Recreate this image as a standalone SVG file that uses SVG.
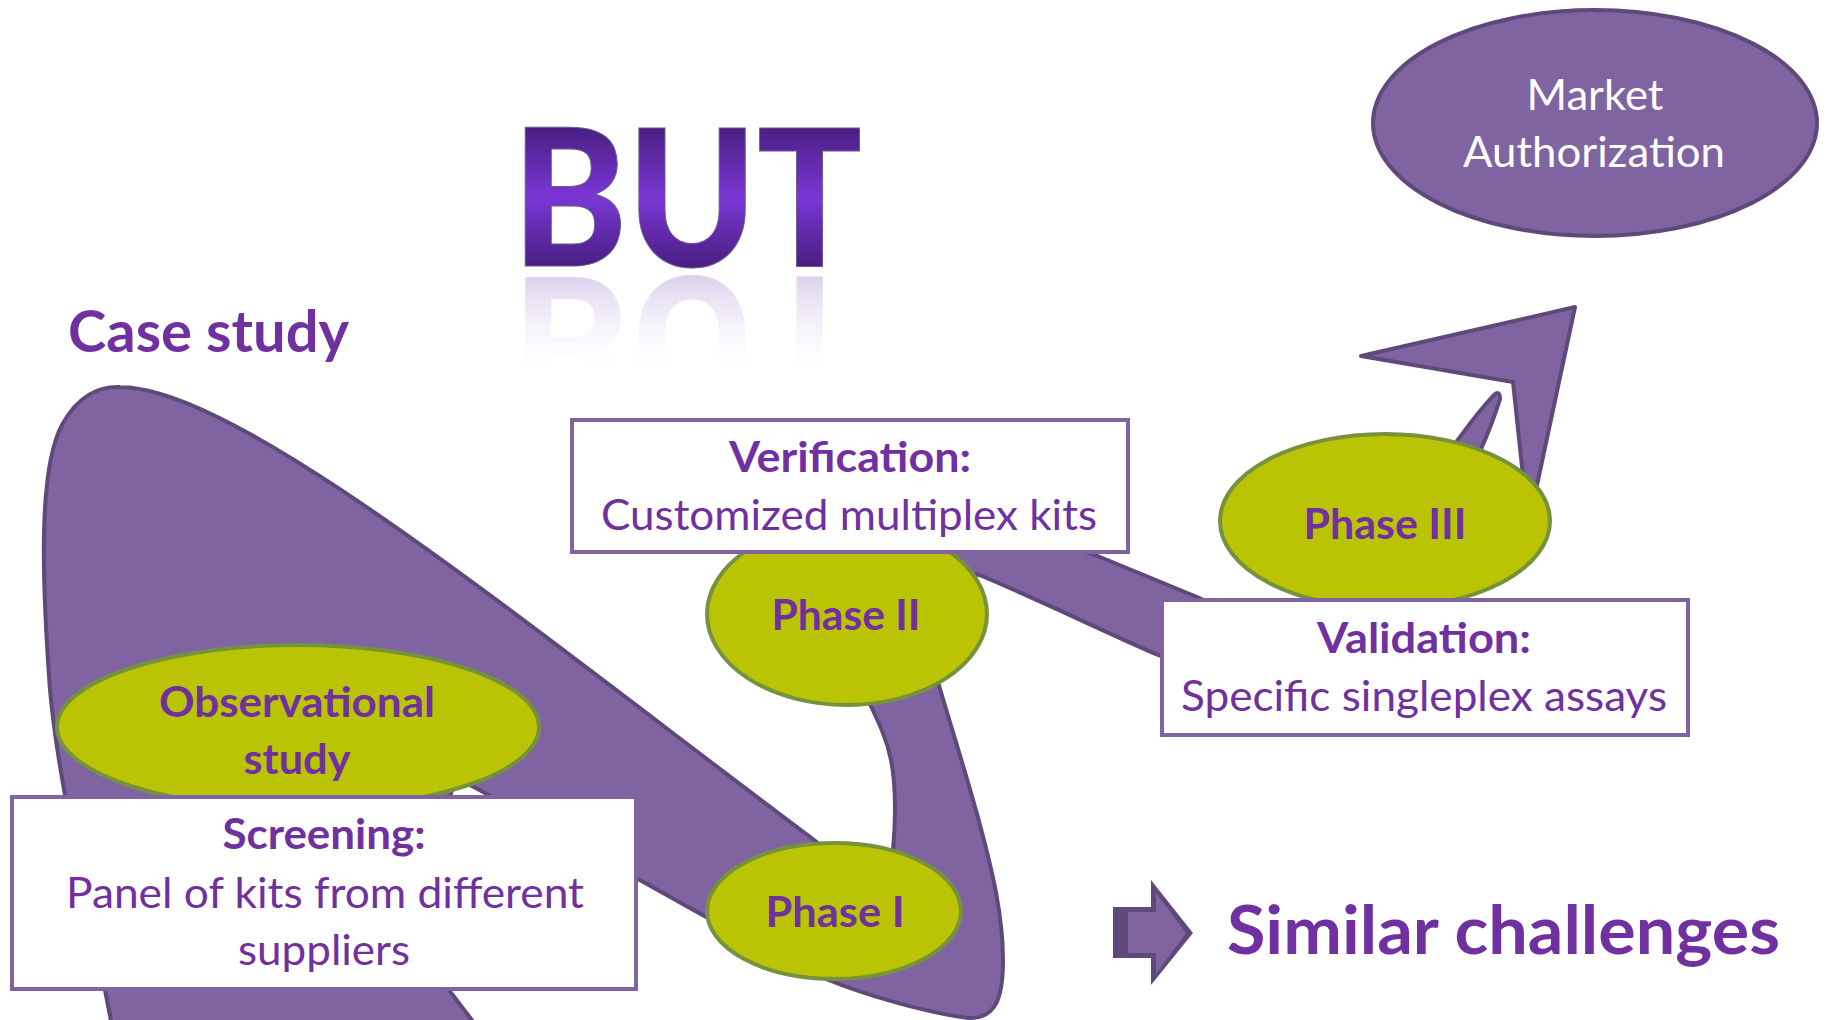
<svg xmlns="http://www.w3.org/2000/svg" width="1834" height="1020" viewBox="0 0 1834 1020">
  <defs>
    <linearGradient id="butGrad" gradientUnits="userSpaceOnUse" x1="0" y1="128" x2="0" y2="266">
      <stop offset="0" stop-color="#4a1f82"/>
      <stop offset="0.5" stop-color="#7a36d6"/>
      <stop offset="1" stop-color="#4a1f82"/>
    </linearGradient>
    <linearGradient id="reflGrad" gradientUnits="userSpaceOnUse" x1="0" y1="266" x2="0" y2="160">
      <stop offset="0" stop-color="#d6cae8" stop-opacity="0.85"/>
      <stop offset="1" stop-color="#ffffff" stop-opacity="0"/>
    </linearGradient>
    <style>
      .ribbon { fill: #8064a2; stroke: #5f497a; stroke-width: 4; stroke-linejoin: round; }
      .phase { fill: #bac304; stroke: #76923c; stroke-width: 4; }
      .box { fill: #ffffff; stroke: #8064a2; stroke-width: 4; }
      .t { font-family: Lato, "Liberation Sans", sans-serif; fill: #7030a0; text-anchor: middle; font-size: 42px; }
      .b { font-weight: bold; }
      .w { fill: #ffffff; }
    </style>
  </defs>
  <rect width="1834" height="1020" fill="#ffffff"/>

  <!-- title texts -->
  <g id="title-but">
    <text x="687" y="266" font-family="Lato, 'Liberation Sans', sans-serif" font-weight="900" font-size="190" text-anchor="middle" textLength="350" lengthAdjust="spacingAndGlyphs" fill="url(#butGrad)" stroke="#6b5a8c" stroke-width="1">BUT</text>
    <text x="687" y="266" transform="translate(0,543) scale(1,-1)" font-family="Lato, 'Liberation Sans', sans-serif" font-weight="900" font-size="190" text-anchor="middle" textLength="350" lengthAdjust="spacingAndGlyphs" fill="url(#reflGrad)">BUT</text>
  </g>
  <g id="case-study">
    <text x="68" y="352" class="t b" style="text-anchor:start;font-size:57px" textLength="281" lengthAdjust="spacingAndGlyphs">Case study</text>
  </g>

  <!-- connector ribbon -->
  <g id="connectors">
    <path class="ribbon" d="M 113 1032 C 95 930, 60 800, 50 690 C 42 580, 38 470, 62 425 C 78 395, 100 386, 120 387 C 240 388, 520 620, 822 846 L 850 880 L 890 860 L 893 850 C 896 815, 896 785, 891 760 C 887 740, 880 725, 868 700 L 860 650 L 900 560 L 960 510 L 1000 522 L 1100 557 L 1197 597 L 1260 625 L 1330 650 L 1400 570 L 1450 455 L 1457 441 Q 1478 412, 1493 396 Q 1500 389, 1500 399 Q 1492 425, 1481 449 L 1500 475 L 1523 476 L 1513 382 L 1361 356 L 1575 307 L 1537 485 L 1500 540 L 1400 600 L 1300 680 L 1200 671 L 1158 655 C 1100 630, 1040 600, 977 574 L 950 620 L 938 682 C 952 730, 968 780, 980 825 C 992 870, 1003 915, 1003 960 C 1003 1000, 995 1019, 968 1018 C 930 1013, 870 997, 826 979 L 780 950 L 706 917 L 638 879 L 485 793 L 455 777 L 425 900 L 449 990 L 481 1032 Z"/>
  </g>

  <!-- market authorization -->
  <g id="market-authorization">
    <ellipse cx="1595" cy="123" rx="222" ry="113" fill="#8064a2" stroke="#5f497a" stroke-width="4"/>
    <text x="1595" y="110" class="t w" textLength="137" lengthAdjust="spacingAndGlyphs">Market</text>
    <text x="1594" y="167" class="t w" textLength="262" lengthAdjust="spacingAndGlyphs">Authorization</text>
  </g>

  <!-- observational study -->
  <g id="observational-study">
    <ellipse class="phase" cx="298" cy="727" rx="241" ry="82"/>
    <text x="297" y="717" class="t b" textLength="276" lengthAdjust="spacingAndGlyphs">Observational</text>
    <text x="297" y="774" class="t b" textLength="107" lengthAdjust="spacingAndGlyphs">study</text>
  </g>

  <!-- screening -->
  <g id="screening">
    <rect class="box" x="12" y="797" width="624" height="192"/>
    <text x="324" y="849" class="t b" textLength="203" lengthAdjust="spacingAndGlyphs">Screening:</text>
    <text x="325" y="908" class="t" textLength="518" lengthAdjust="spacingAndGlyphs">Panel of kits from different</text>
    <text x="324" y="965" class="t" textLength="172" lengthAdjust="spacingAndGlyphs">suppliers</text>
  </g>

  <!-- phase I -->
  <g id="phase-1">
    <ellipse class="phase" cx="834" cy="911" rx="127" ry="68"/>
    <text x="835" y="927" class="t b" textLength="139" lengthAdjust="spacingAndGlyphs">Phase I</text>
  </g>

  <!-- phase II -->
  <g id="phase-2">
    <ellipse class="phase" cx="847" cy="614" rx="140" ry="91"/>
    <text x="846" y="630" class="t b" textLength="149" lengthAdjust="spacingAndGlyphs">Phase II</text>
  </g>

  <!-- verification -->
  <g id="verification">
    <rect class="box" x="572" y="420" width="556" height="132"/>
    <text x="850" y="472" class="t b" textLength="242" lengthAdjust="spacingAndGlyphs">Verification:</text>
    <text x="849" y="530" class="t" textLength="496" lengthAdjust="spacingAndGlyphs">Customized multiplex kits</text>
  </g>

  <!-- phase III -->
  <g id="phase-3">
    <ellipse class="phase" cx="1385" cy="521" rx="165" ry="87"/>
    <text x="1385" y="539" class="t b" textLength="163" lengthAdjust="spacingAndGlyphs">Phase III</text>
  </g>

  <!-- validation -->
  <g id="validation">
    <rect class="box" x="1162" y="600" width="526" height="135"/>
    <text x="1424" y="653" class="t b" textLength="214" lengthAdjust="spacingAndGlyphs">Validation:</text>
    <text x="1424" y="711" class="t" textLength="486" lengthAdjust="spacingAndGlyphs">Specific singleplex assays</text>
  </g>

  <!-- similar challenges -->
  <g id="similar-challenges">
    <polygon points="1113,907 1151,907 1151,880 1193,933 1151,985 1151,958 1113,958" fill="#5f497a"/>
    <polygon points="1128,912 1156,912 1156,893 1186,933 1156,974 1156,953 1128,953" fill="#8064a2"/>
    <text x="1227" y="954" class="t b" style="text-anchor:start;font-size:66px" textLength="553" lengthAdjust="spacingAndGlyphs">Similar challenges</text>
  </g>
</svg>
